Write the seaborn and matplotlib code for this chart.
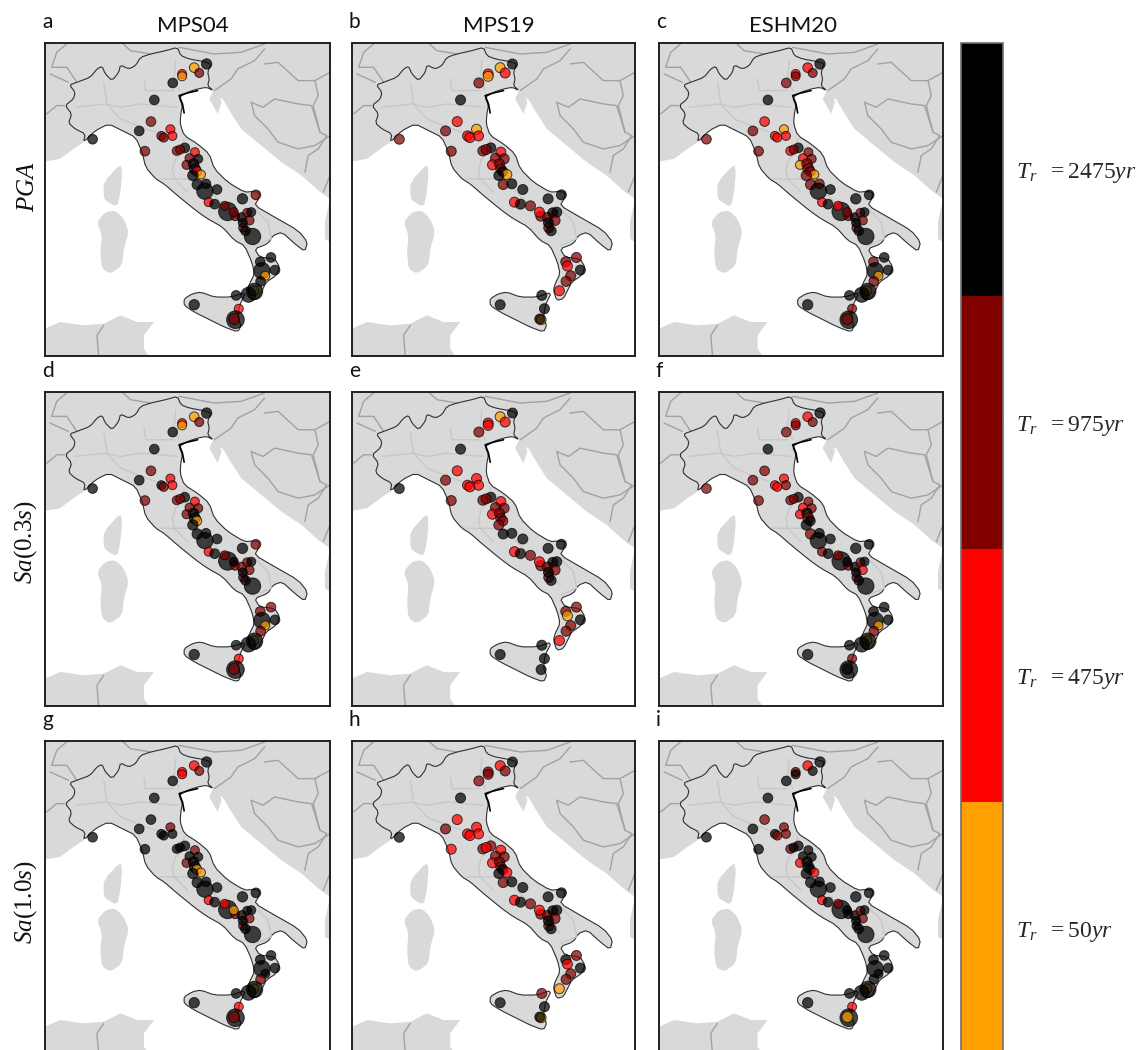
import numpy as np
import pandas as pd
import seaborn as sns
import matplotlib.pyplot as plt
from matplotlib.colors import ListedColormap, BoundaryNorm
from matplotlib.cm import ScalarMappable

# Map outlines in map units (x to the east, y to the south)
italy_x = [130,135,105,85,95,75,100,105,88,110,150,170,185,195,215,235,240,265,285,300,330,375,410,420,445,490,510,500,505,500,517,497,470,440,415,425,420,418,430,470,505,520,560,610,635,655,652,640,700,770,798,790,760,722,695,680,640,655,700,715,705,675,665,650,630,620,625,640,632,610,580,545,500,465,410,370,345,315,305,285,245,205,165]
italy_y = [320,295,280,262,235,210,190,170,148,140,125,100,92,115,135,110,88,100,90,65,55,45,35,60,70,78,85,110,130,150,165,155,160,170,185,210,235,265,300,325,355,400,440,470,468,470,490,510,545,585,620,648,625,590,600,625,640,665,670,695,720,740,760,790,795,765,745,715,680,630,615,575,550,525,480,445,430,395,350,305,285,265,285]
sicily_x = [430,455,480,520,570,615,595,590,600,590,550,510,460,430]
sicily_y = [790,775,770,785,785,770,810,850,870,890,875,855,830,810]
sardinia_x = [170,195,225,250,265,250,245,210,185,180,185]
sardinia_y = [560,530,525,550,590,640,690,715,700,650,600]
corsica_x = [190,190,240,245,240,230,195]
corsica_y = [480,440,385,410,470,515,495]
north_x = [15,865,865,830,780,720,660,600,565,545,530,505,517,470,300,130,100,60,15]
north_y = [22,22,490,465,420,380,330,280,225,190,235,190,165,110,150,320,340,370,378]
albania_x = [865,850,850,865]
albania_y = [490,560,610,620]
africa_x = [15,60,130,190,240,290,340,310,310,325,15]
africa_y = [880,860,870,865,840,860,860,900,940,962,962]

borders = [
    ([245,270,330], [22,45,55]),
    ([415,520,600,670], [35,55,50,25]),
    ([670,640,590,570,520], [40,75,100,130,165]),
    ([630,665,700,770,810,835,855,830,800,790], [200,215,190,205,210,290,300,340,360,410]),
    ([630,640,680,710,770,820,865], [200,240,280,320,340,330,300]),
    ([865,820,830,815,835], [110,135,180,210,290]),
    ([670,710,770,820], [85,80,135,135]),
    ([20,50,75], [235,210,210]),
    ([30,85], [115,140]),
    ([85,50,35,80,110], [20,50,95,95,140]),
    ([190,170,175], [870,900,962]),
    ([845,865], [470,420]),
]
regions = [
    ([105,195,240,300,410], [215,205,215,205,215]),
    ([190,200,240,290,345], [140,205,250,270,290]),
    ([310,315,400], [130,165,165]),
    ([405,400,415], [75,130,165]),
    ([430,425,405,395,400,450,480,520], [310,350,370,400,430,430,440,480]),
    ([355,400,440], [430,430,470]),
    ([520,560,600,640], [480,520,560,600]),
    ([640,680,690,640], [520,560,610,630]),
]
islands = [
    ([540,560,590], [190,230,270]),
    ([550,570,600], [205,250,285]),
    ([670,710,750], [355,385,410]),
    ([665,700,730], [375,395,410]),
]
lagoon_x = [470,440,415,425,430]
lagoon_y = [165,172,180,205,232]

# Sites: map position and marker radius in map units
site_x = [497,460,475,424,424,396,341,331,389,395,362,369,296,157,313,432,408,418,462,472,446,437,458,462,468,480,
          456,469,495,492,528,503,521,604,644,560,551,582,602,618,630,625,606,613,634,657,689,662,701,672,658,638,
          622,640,585,460,593,583,579,578,605,662]
site_y = [85,96,112,115,122,142,193,258,281,301,301,306,286,311,347,337,346,342,350,370,368,388,385,400,408,417,
          420,447,445,467,462,500,506,490,478,528,511,542,546,532,530,555,577,586,603,679,666,706,704,721,738,766,
          778,768,780,808,820,853,851,530,562,692]
site_r = [13,12,11,11,11,12,12,12,11,11,11,11,12,12,12,12,11,11,11,11,11,11,13,14,12,11,
          13,13,12,22,12,11,12,13,12,25,11,11,12,11,11,11,11,12,22,12,12,22,12,11,12,12,
          20,22,12,13,11,24,14,11,11,12]

# Return period class per site and panel: 0=50yr, 1=475yr, 2=975yr, 3=2475yr, -1=no marker
class_a = [3,0,2,1,0,3,3,2,1,1,2,2,3,3,2,3,2,2,1,3,2,2,3,3,1,0,3,3,3,3,3,1,3,3,2,3,2,2,3,2,3,2,2,3,3,3,3,3,3,0,3,0,3,3,3,3,1,3,2,2,3,-1]
class_b = [3,0,1,1,0,2,3,1,0,1,1,1,2,2,2,3,2,2,1,2,2,1,2,2,3,0,3,2,3,-1,3,1,3,3,3,-1,2,2,2,3,3,2,2,3,-1,2,2,-1,3,2,2,1,-1,-1,3,3,3,0,3,1,3,1]
class_c = [3,1,2,1,2,2,3,1,0,1,1,1,2,2,2,3,1,2,2,2,1,0,2,2,2,0,2,2,2,3,3,1,3,3,3,3,1,2,3,2,3,2,2,3,3,2,3,3,3,0,2,0,3,3,3,3,2,3,2,2,3,-1]
class_d = [3,0,2,1,0,3,3,2,1,1,3,2,3,3,2,3,2,2,1,2,2,2,3,3,0,-1,3,3,3,3,3,1,3,3,2,3,2,2,2,2,3,2,2,3,3,2,2,3,3,0,2,0,3,3,3,3,1,3,2,3,3,-1]
class_e = [3,0,1,1,1,2,3,1,1,1,1,1,2,3,2,3,2,2,1,2,2,1,2,2,2,-1,2,3,3,-1,3,1,3,3,3,-1,2,2,2,3,3,2,2,3,-1,2,2,-1,3,2,2,1,-1,-1,3,3,3,3,-1,1,3,0]
class_f = [3,1,2,1,2,2,3,2,1,2,1,1,2,2,2,3,2,2,2,2,1,1,3,2,3,-1,3,2,3,3,3,2,3,3,3,3,2,2,3,2,3,1,2,3,3,3,3,3,3,0,2,0,3,3,3,3,2,3,3,3,3,-1]
class_g = [3,1,2,1,1,3,3,3,2,3,3,3,3,3,3,3,3,3,2,3,3,2,3,3,0,0,3,3,3,3,3,1,3,3,3,3,1,2,3,3,3,2,2,3,3,3,3,3,3,3,2,0,3,3,3,3,1,3,2,0,3,-1]
class_h = [3,1,2,2,2,2,3,1,1,1,1,1,2,3,1,2,2,1,1,2,2,1,2,2,3,1,3,2,3,-1,3,1,3,3,3,-1,2,2,2,3,3,2,2,3,-1,3,2,-1,3,2,2,0,-1,-1,2,3,3,0,3,1,3,1]
class_i = [3,1,3,2,3,3,3,2,2,2,3,2,3,3,3,3,2,3,3,3,3,1,3,3,3,1,3,3,3,3,3,1,3,3,3,3,2,3,3,2,3,2,3,3,3,3,3,3,3,3,3,0,3,3,3,3,1,3,0,3,3,-1]

panel_classes = [class_a, class_b, class_c, class_d, class_e, class_f, class_g, class_h, class_i]
panel_letters = ['a', 'b', 'c', 'd', 'e', 'f', 'g', 'h', 'i']
models = ['MPS04', 'MPS19', 'ESHM20']
rows = ['$PGA$', '$Sa(0.3s)$', '$Sa(1.0s)$']
periods = [r'$T_r\ \ =50yr$', r'$T_r\ \ =475yr$', r'$T_r\ \ =975yr$', r'$T_r\ \ =2475yr$']
class_colors = ['#ffa000', '#ff0000', '#800000', '#000000']

sns.set_style('white')
plt.rcParams['font.family'] = ['Lato', 'DejaVu Sans']
plt.rcParams['mathtext.fontset'] = 'custom'
plt.rcParams['mathtext.rm'] = 'Liberation Serif'
plt.rcParams['mathtext.it'] = 'Liberation Serif:italic'

W, H = 1145, 1050
fig = plt.figure(figsize=(W / 100, H / 100), dpi=100)


def px_axes(x0, y0, x1, y1):
    return fig.add_axes([x0 / W, 1 - y1 / H, (x1 - x0) / W, (y1 - y0) / H])


def soften(xs, ys):
    # one pass of corner cutting so the coast does not look like straight segments
    pts = np.column_stack([xs, ys])
    nxt = np.roll(pts, -1, axis=0)
    out = np.empty((len(pts) * 2, 2))
    out[0::2] = 0.8 * pts + 0.2 * nxt
    out[1::2] = 0.2 * pts + 0.8 * nxt
    return out[:, 0], out[:, 1]


def draw_map(ax):
    land = '#d9d9d9'
    for xs, ys in [(north_x, north_y), (albania_x, albania_y), (africa_x, africa_y)]:
        ax.fill(xs, ys, color=land, lw=0, zorder=1)
    for xs, ys in [(sardinia_x, sardinia_y), (corsica_x, corsica_y)]:
        ax.fill(*soften(xs, ys), color=land, lw=0, zorder=1)
    for xs, ys in islands:
        ax.plot(xs, ys, color='white', lw=1.1, zorder=1.5)
    for xs, ys in borders:
        ax.plot(xs, ys, color='#a2a2a2', lw=1.0, zorder=1.6)
    ax.fill(*soften(italy_x, italy_y), facecolor=land, edgecolor='#303030', lw=0.8, zorder=2)
    ax.fill(*soften(sicily_x, sicily_y), facecolor=land, edgecolor='#303030', lw=0.8, zorder=2)
    for xs, ys in regions:
        ax.plot(xs, ys, color='#c6c6c6', lw=0.9, zorder=2.5)
    ax.plot(lagoon_x, lagoon_y, color='black', lw=1.2, zorder=2.6)


col_x = [(45, 330), (352, 635), (659, 943)]
row_y = [(43, 356), (392, 706), (741, 1054)]

for i, classes in enumerate(panel_classes):
    r, c = divmod(i, 3)
    ax = px_axes(col_x[c][0], row_y[r][0], col_x[c][1], row_y[r][1])
    draw_map(ax)

    df = pd.DataFrame({'x': site_x, 'y': site_y, 'radius': site_r, 'period': classes})
    if c == 1:
        # MPS19 markers all have the same size
        df['radius'] = 12.5
    df = df[df['period'] >= 0]
    areas = {v: (0.48 * (v + 2.5)) ** 2 for v in df['radius'].unique()}
    sns.scatterplot(data=df, x='x', y='y', hue='period', palette=dict(enumerate(class_colors)),
                    size='radius', sizes=areas, alpha=0.72, edgecolor='black', linewidth=0.7,
                    legend=False, zorder=5, ax=ax)

    ax.set_xlim(15, 865)
    ax.set_ylim(962, 22)
    ax.set_xlabel('')
    ax.set_ylabel('')
    ax.set_xticks([])
    ax.set_yticks([])
    for sp in ax.spines.values():
        sp.set_color('#202020')
        sp.set_linewidth(1.4)

    fig.text((col_x[c][0] - 3) / W, 1 - (row_y[r][0] - 21) / H, panel_letters[i],
             fontsize=15, va='center', ha='left', color='#111111')

for x, name in zip([193, 499, 793], models):
    fig.text(x / W, 1 - 26 / H, name, fontsize=16, ha='center', va='center', color='#111111')

for y, name in zip([187, 542, 902], rows):
    fig.text(26 / W, 1 - y / H, name, fontsize=18, rotation=90, ha='center', va='center', color='#111111')

# Return period colour bar
cax = px_axes(961, 43, 1003, 1055)
norm = BoundaryNorm([0, 1, 2, 3, 4], 4)
cbar = fig.colorbar(ScalarMappable(norm=norm, cmap=ListedColormap(class_colors)), cax=cax,
                    ticks=[0.5, 1.5, 2.5, 3.5], spacing='proportional')
cbar.ax.set_yticklabels(periods, fontsize=17)
cbar.ax.minorticks_off()
cbar.ax.tick_params(axis='y', right=True, direction='in', length=7, width=1, color='#707070', pad=9)
cbar.outline.set_edgecolor('#707070')
cbar.outline.set_linewidth(1.2)

fig.savefig('out.png', dpi=100)
